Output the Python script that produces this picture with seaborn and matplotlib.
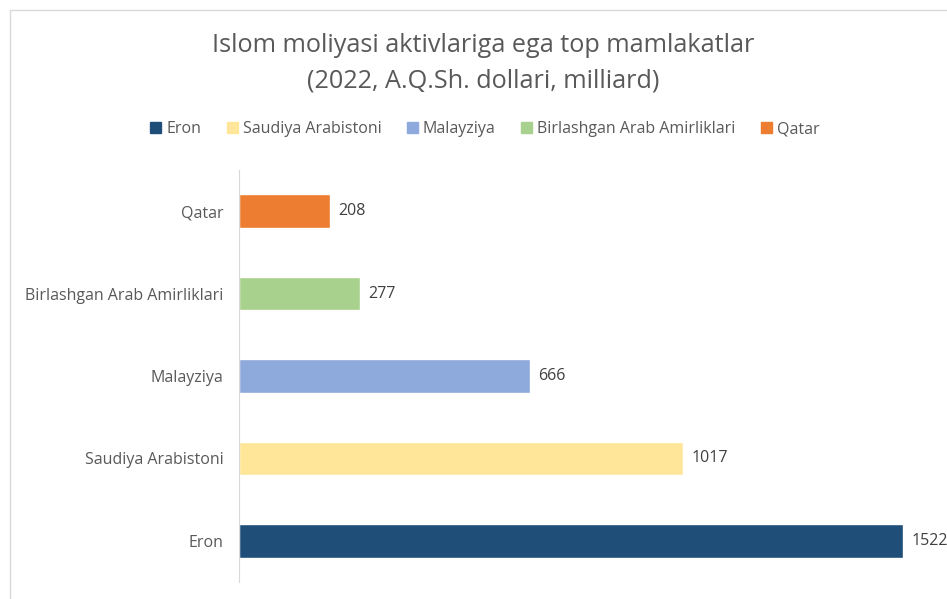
import matplotlib
matplotlib.use("Agg")
import matplotlib.pyplot as plt
import matplotlib.patches as mpatches
import seaborn as sns
import pandas as pd

# --- datos ---
countries = ["Qatar", "Birlashgan Arab Amirliklari", "Malayziya",
             "Saudiya Arabistoni", "Eron"]
values = [208, 277, 666, 1017, 1522]
legend_order = ["Eron", "Saudiya Arabistoni", "Malayziya",
                "Birlashgan Arab Amirliklari", "Qatar"]
colors = {
    "Eron": "#1F4E79",
    "Saudiya Arabistoni": "#FFE699",
    "Malayziya": "#8EA9DB",
    "Birlashgan Arab Amirliklari": "#A9D18E",
    "Qatar": "#ED7D31",
}
title = "Islom moliyasi aktivlariga ega top mamlakatlar\n(2022, A.Q.Sh. dollari, milliard)"

df = pd.DataFrame({"country": countries, "value": values})

sns.set_style("white")
plt.rcParams["font.family"] = ["Open Sans", "DejaVu Sans"]

W, H = 947, 599
fig = plt.figure(figsize=(W / 100, H / 100), dpi=100)

# marco del gráfico (cortado a la derecha y abajo)
fig.patches.append(mpatches.Rectangle((10 / W, -0.1), 1.2, 1.1 - 10 / H,
                                      transform=fig.transFigure, fill=False,
                                      edgecolor="#D9D9D9", linewidth=1))

ax = fig.add_axes([239 / W, 1 - 582 / H, 698 / W, 412 / H])
sns.barplot(data=df, x="value", y="country", hue="country", order=countries,
            palette=colors, dodge=False, width=0.41, legend=False, ax=ax,
            saturation=1)

ax.set_xlim(0, 1600)
ax.set_xlabel("")
ax.set_ylabel("")
ax.set_xticks([])
for s in ["top", "right", "bottom"]:
    ax.spines[s].set_visible(False)
ax.spines["left"].set_color("#D9D9D9")
ax.tick_params(axis="y", length=0, pad=11, labelsize=11.5, labelcolor="#595959")

for i, v in enumerate(values):
    ax.text(v + 20, i, str(v), va="center", ha="left", fontsize=11.5,
            color="#404040", clip_on=False)

fig.text(483 / W, 1 - 63 / H, title, ha="center", va="center",
         fontsize=18.2, color="#595959", linespacing=1.55)

handles = [mpatches.Patch(color=colors[c], label=c) for c in legend_order]
fig.legend(handles=handles, loc="center", bbox_to_anchor=(485 / W, 1 - 129 / H),
           ncol=5, frameon=False, fontsize=11.5, handlelength=0.7,
           handleheight=0.7, handletextpad=0.3, columnspacing=1.6,
           labelcolor="#595959")

fig.savefig("out.png", dpi=100)
